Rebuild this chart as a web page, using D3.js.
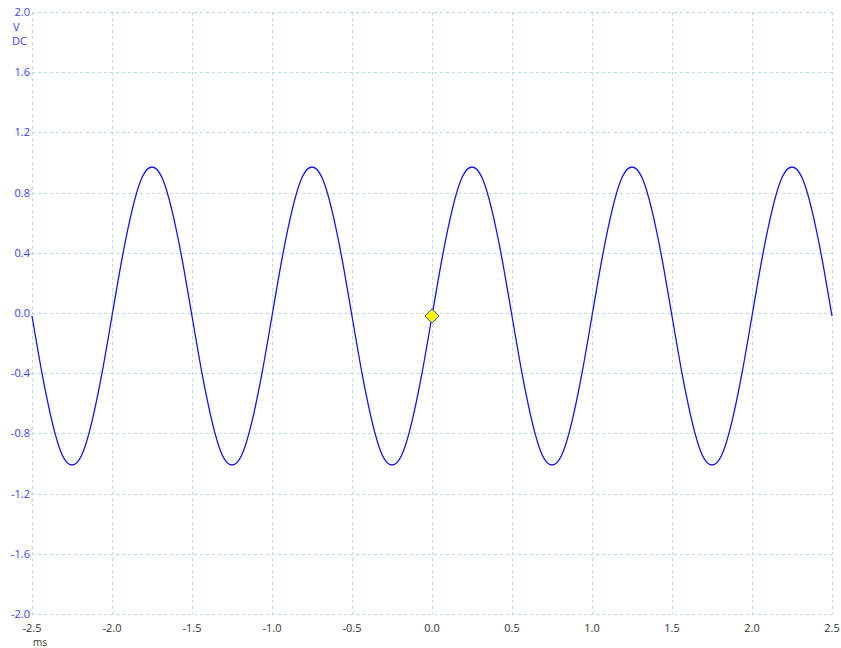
<!DOCTYPE html>
<html><head><meta charset="utf-8">
<script src="https://cdn.jsdelivr.net/npm/d3@7"></script>
<style>body{margin:0;background:#fff}svg{display:block}text{font-family:"Segoe UI","Open Sans","DejaVu Sans",sans-serif}</style>
</head><body><svg id="c" width="841" height="648"></svg>
<script>
// Time (ms), sampled every 1/16 of a period
const xTicks = [-2.5,-2.0,-1.5,-1.0,-0.5,0.0,0.5,1.0,1.5,2.0,2.5];
const yTicks = [-2.0,-1.6,-1.2,-0.8,-0.4,0.0,0.4,0.8,1.2,1.6,2.0];
const sampleStep = 0.0625;
const startTime = -2.5;
// waveform samples (V), covering -2.5 .. 2.5 ms
const voltage = [
 -0.02,-0.40,-0.72,-0.94,-1.01,-0.94,-0.72,-0.40,
 -0.02,0.36,0.68,0.90,0.97,0.90,0.68,0.36,
 -0.02,-0.40,-0.72,-0.94,-1.01,-0.94,-0.72,-0.40,
 -0.02,0.36,0.68,0.90,0.97,0.90,0.68,0.36,
 -0.02,-0.40,-0.72,-0.94,-1.01,-0.94,-0.72,-0.40,
 -0.02,0.36,0.68,0.90,0.97,0.90,0.68,0.36,
 -0.02,-0.40,-0.72,-0.94,-1.01,-0.94,-0.72,-0.40,
 -0.02,0.36,0.68,0.90,0.97,0.90,0.68,0.36,
 -0.02,-0.40,-0.72,-0.94,-1.01,-0.94,-0.72,-0.40,
 -0.02,0.36,0.68,0.90,0.97,0.90,0.68,0.36,
 -0.02
];
const time = voltage.map((v,i)=>+(startTime + i*sampleStep).toFixed(4));
const marker = {t:0.0, v:-0.02};

const svg = d3.select("#c");
const L=32, R=832, T=12, B=614;
const x = d3.scaleLinear().domain([-2.5,2.5]).range([L,R]);
const y = d3.scaleLinear().domain([-2,2]).range([B,T]);
const gridColor = "#b4dcea";

const g = svg.append("g");
g.selectAll("line.v").data(xTicks).join("line")
  .attr("x1",d=>Math.round(x(d))+0.5).attr("x2",d=>Math.round(x(d))+0.5)
  .attr("y1",T).attr("y2",B)
  .attr("stroke",gridColor).attr("stroke-width",1).attr("stroke-dasharray","3,3");
g.selectAll("line.h").data(yTicks).join("line")
  .attr("y1",d=>Math.round(y(d))+0.5).attr("y2",d=>Math.round(y(d))+0.5)
  .attr("x1",L).attr("x2",R)
  .attr("stroke",gridColor).attr("stroke-width",1).attr("stroke-dasharray","3,3");

// Y labels
svg.selectAll("text.yl").data(yTicks).join("text")
  .attr("x",L-2).attr("y",d=>y(d)+4)
  .attr("text-anchor","end").attr("font-size",11).attr("fill","#3c3cff")
  .text(d=>d.toFixed(1));
svg.append("text").attr("x",13).attr("y",y(2)+19).attr("font-size",11).attr("fill","#3c3cff").text("V");
svg.append("text").attr("x",12).attr("y",y(2)+33).attr("font-size",11).attr("fill","#3c3cff").text("DC");

// X labels
svg.selectAll("text.xl").data(xTicks).join("text")
  .attr("x",d=>x(d)).attr("y",B+18)
  .attr("text-anchor","middle").attr("font-size",11).attr("fill","#333")
  .text(d=>d.toFixed(1));
svg.append("text").attr("x",x(-2.5)+8).attr("y",B+32).attr("text-anchor","middle").attr("font-size",10).attr("fill","#333").text("ms");

// trace
const line = d3.line().x((d,i)=>x(time[i])).y(d=>y(d)).curve(d3.curveNatural);
svg.append("path").datum(voltage).attr("d",line)
  .attr("fill","none").attr("stroke","#1414e6").attr("stroke-width",1.3);

// trigger marker
svg.append("path").attr("d",d3.symbol(d3.symbolDiamond2? d3.symbolDiamond2 : d3.symbolDiamond, 130)())
  .attr("transform",`translate(${x(marker.t)},${y(marker.v)})`)
  .attr("fill","#f5f500").attr("stroke","#3c3cc8").attr("stroke-width",1);
</script></body></html>
